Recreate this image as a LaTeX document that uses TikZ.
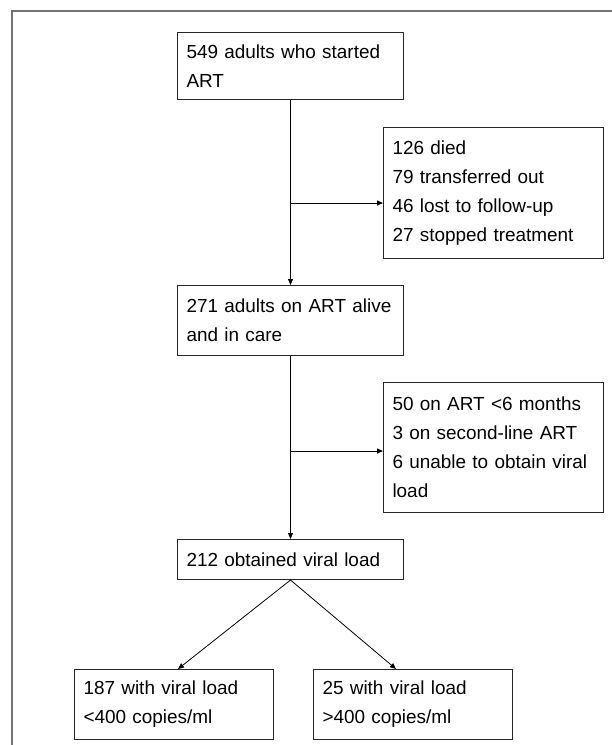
\documentclass[tikz,border=0pt]{standalone}
\usepackage{fontspec}
\setmainfont{Liberation Sans}
\usetikzlibrary{arrows.meta}

\tikzstyle{box} = [draw=black!85, line width=1bp, rectangle, anchor=north west, inner xsep=9bp, inner ysep=0pt, align=left, font=\fontsize{19}{29}\selectfont]
\tikzstyle{arrow} = [draw, line width=0.8bp, -{Triangle[length=6bp,width=5bp]}]
\tikzstyle{frame} = [draw=black!55, line width=1.5bp]

\begin{document}
\begin{tikzpicture}[x=1bp, y=-1bp]
       \useasboundingbox (0,0) rectangle (612,745);
       \path[frame] (612,11) -- (12,11) -- (12,745);
       \foreach \pos/\name/\w/\h/\txt in {{(177,32)/start/226/67/{549 adults who started\\ART}},
           {(383,127)/lost/220/131/{126 died\\79 transferred out\\46 lost to follow-up\\27 stopped treatment}},
           {(177,285)/alive/226/70/{271 adults on ART alive\\and in care}},
           {(383,382)/excl/220/130/{50 on ART <6 months\\3 on second-line ART\\6 unable to obtain viral\\load}},
           {(177,539)/vl/226/40/{212 obtained viral load}},
           {(74,669)/low/199/70/{187 with viral load\\<400 copies/ml}},
           {(313,669)/high/199/70/{25 with viral load\\>400 copies/ml}}} {
           \pgfmathsetmacro\tw{\w-18}
           \node[box, minimum width=\w bp, minimum height=\h bp, text width=\tw bp] (\name) at \pos {\txt};
       }
       \coordinate (j1) at (start.south |- 0,203);
       \coordinate (j2) at (alive.south |- 0,451);
       \foreach \source/\sink in {start/alive, alive/vl} {
           \path[arrow] (\source) -- (\sink);
       }
       \path[arrow] (j1) -- (j1 -| lost.west);
       \path[arrow] (j2) -- (j2 -| excl.west);
       \path[arrow] (vl.south) -- ([xshift=4bp]low.north);
       \path[arrow] (vl.south) -- ([xshift=-17bp]high.north);
\end{tikzpicture}
\end{document}
